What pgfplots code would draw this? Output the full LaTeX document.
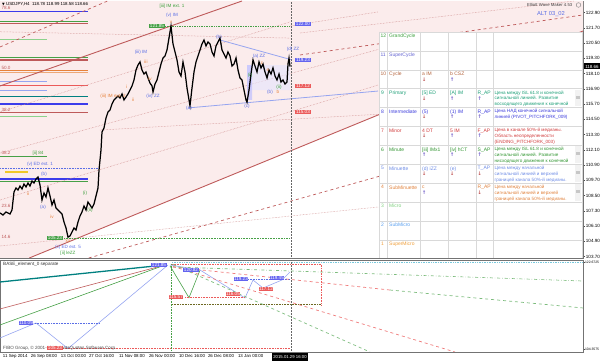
\documentclass[border=0pt]{standalone}
\usepackage{pgfplots}
\pgfplotsset{compat=1.18}
\usepackage{fontspec}
\setmainfont{Liberation Sans}
\newfontfamily\djfont{DejaVu Sans}
\definecolor{pinkbg}{RGB}{251,236,236}
\definecolor{brn}{RGB}{190,90,90}
\definecolor{brnl}{RGB}{205,135,135}
\definecolor{wblue}{RGB}{90,110,230}
\definecolor{wgreen}{RGB}{60,160,60}
\definecolor{worange}{RGB}{230,130,60}
\definecolor{mtblue}{RGB}{60,60,235}
\definecolor{mtred}{RGB}{235,90,90}
\definecolor{mtgreen}{RGB}{70,160,70}
\definecolor{teal2}{RGB}{0,128,128}
\definecolor{lblue}{RGB}{150,165,240}
\definecolor{lgreen}{RGB}{140,210,140}
\definecolor{ylw}{RGB}{240,200,40}
\definecolor{cyanl}{RGB}{120,200,220}
\definecolor{c12}{RGB}{60,160,60}
\definecolor{c11}{RGB}{100,100,210}
\definecolor{c10}{RGB}{180,100,60}
\definecolor{c9}{RGB}{30,160,120}
\definecolor{c8}{RGB}{60,60,220}
\definecolor{c7}{RGB}{210,60,60}
\definecolor{c6}{RGB}{50,150,50}
\definecolor{c5}{RGB}{110,140,230}
\definecolor{c4}{RGB}{225,130,60}
\definecolor{c3}{RGB}{130,210,130}
\definecolor{c2}{RGB}{90,160,240}
\definecolor{c1}{RGB}{240,160,60}
\definecolor{arrup}{RGB}{110,90,200}
\definecolor{arrdn}{RGB}{190,80,80}
\newcommand{\tfont}{\fontsize{5}{5.5}\selectfont}
\newcommand{\sfont}{\fontsize{4.6}{5.5}\selectfont}
\newcommand{\wfont}{\fontsize{4.6}{5}\selectfont}
\newcommand{\up}{{\djfont\bfseries\fontsize{5}{5}\selectfont\textcolor{arrup}{↑}}}
\newcommand{\dn}{{\djfont\bfseries\fontsize{5}{5}\selectfont\textcolor{arrdn}{↓}}}
\newcommand{\cell}[4]{\node[anchor=north west, inner sep=0pt, text=#4, font=\tfont] at (#1,#2) {#3};}
\newcommand{\scell}[4]{\node[anchor=north west, inner sep=0pt, text=#4, font=\sfont] at (#1,#2) {#3};}
\newcommand{\arr}[3]{\node[anchor=north west, inner sep=0pt] at (#1,#2) {#3};}
\begin{document}
\begin{tikzpicture}[x=1bp,y=1bp]
\useasboundingbox (0bp,0bp) rectangle (600bp,361bp);
% ================= TOP PANEL =================
\begin{axis}[
  at={(0bp,103bp)}, anchor=south west,
  width=583bp, height=257bp, scale only axis,
  xmin=0, xmax=583, ymin=103.585, ymax=123.82,
  axis line style={black!55, line width=0.6pt},
  xtick=\empty,
  ytick={103.70,104.90,106.10,107.30,108.50,109.70,110.90,112.10,113.30,114.50,115.70,116.90,118.10,119.30,120.50,121.70,122.90},
  ytick pos=right, yticklabel pos=right,
  tick align=outside, major tick length=2bp,
  tick style={black!70, line width=0.4pt},
  yticklabel style={font=\fontsize{4.6}{5}\selectfont, inner sep=0.7pt},
  /pgf/number format/fixed, /pgf/number format/fixed zerofill,
  /pgf/number format/precision=2, /pgf/number format/assume math mode=true,
]
% pink channel area
\addplot[fill=pinkbg, draw=none] coordinates {(29.3,103.585) (583,121.46) (583,123.82) (0,123.82) (0,103.585) (29.3,103.585)};
% left horizontal level bars
\addplot[mtblue, line width=0.8pt] coordinates {(0,123.03) (88,123.03)};
\addplot[mtgreen, line width=1.2pt] coordinates {(0,122.19) (88,122.19)};
\addplot[brn, line width=1.2pt] coordinates {(0,122.05) (88,122.05)};
\addplot[lgreen, line width=0.8pt] coordinates {(0,120.83) (47,120.83)};
\addplot[mtgreen, line width=1.0pt] coordinates {(0,119.35) (88,119.35)};
\addplot[brn, line width=1.2pt] coordinates {(0,119.18) (88,119.18)};
\addplot[worange, line width=0.8pt] coordinates {(0,118.39) (88,118.39)};
\addplot[worange!70, line width=0.8pt] coordinates {(0,118.18) (88,118.18)};
\addplot[lblue, line width=0.8pt] coordinates {(0,117.52) (47,117.52)};
\addplot[mtred, line width=1.0pt] coordinates {(0,117.13) (88,117.13)};
\addplot[lblue, line width=0.8pt] coordinates {(0,116.76) (47,116.76)};
\addplot[teal2, line width=1.0pt] coordinates {(0,116.34) (88,116.34)};
\addplot[mtblue, line width=1.3pt] coordinates {(0,115.71) (88,115.71)};
\addplot[brn, line width=1.2pt] coordinates {(0,115.03) (88,115.03)};
\addplot[lgreen, line width=0.8pt] coordinates {(0,114.71) (47,114.71)};
\addplot[mtgreen, line width=0.8pt] coordinates {(0,111.62) (47,111.62)};
\addplot[wblue, densely dotted, line width=0.6pt] coordinates {(0,110.67) (100,110.67)};
\addplot[ylw, line width=1.5pt] coordinates {(5,110.36) (28,110.36)};
\addplot[mtblue, line width=1.4pt] coordinates {(0,109.81) (88,109.81)};
\addplot[mtgreen, line width=1.0pt] coordinates {(0,109.63) (88,109.63)};
% pitchfork / channel lines
\addplot[brn, line width=0.9pt] coordinates {(0,117.13) (242,123.82)};
\addplot[brn, line width=0.9pt] coordinates {(29.3,103.585) (583,121.46)};
\addplot[brn, line width=0.7pt, dashed] coordinates {(88.7,103.585) (583,114.53)};
\addplot[brn, line width=0.7pt, dashed] coordinates {(0,120.20) (107.6,123.82)};
\addplot[brn, line width=0.7pt, dashed] coordinates {(300,119.57) (583,122.72)};
\addplot[brnl, line width=0.5pt, densely dotted] coordinates {(0,115.08) (290,122.17)};
\addplot[brnl, line width=0.5pt, densely dotted] coordinates {(0,111.85) (378,120.00)};
\addplot[brnl, line width=0.5pt, densely dotted] coordinates {(0,108.15) (378,117.20)};
\addplot[brnl, line width=0.5pt, densely dotted] coordinates {(0,104.53) (378,107.60)};
\addplot[brnl, line width=0.5pt, densely dotted] coordinates {(100,113.66) (378,114.90)};
\addplot[brnl, line width=0.5pt, densely dotted] coordinates {(290,121.85) (378,122.96)};
\addplot[brnl, line width=0.5pt, densely dotted] coordinates {(300,121.30) (574,123.82)};
\addplot[brnl, line width=0.5pt, densely dotted] coordinates {(0,121.40) (290,120.90)};
% shaded box of the last correction
\addplot[fill=blue!10, fill opacity=0.6, draw=none] coordinates {(247,118.78) (290,118.78) (290,116.81) (247,116.81) (247,118.78)};
\addplot[fill=blue!25, fill opacity=0.7, draw=none] coordinates {(247,118.78) (252,118.78) (252,116.03) (247,116.03) (247,118.78)};
% triangle lines
\addplot[lblue, line width=0.8pt] coordinates {(220,120.75) (292,119.18)};
\addplot[lblue, line width=0.8pt] coordinates {(188,115.40) (378,116.73)};
% horizontal dotted levels
\addplot[mtgreen, densely dotted, line width=0.7pt] coordinates {(165,121.85) (290,121.85)};
\addplot[mtgreen, densely dotted, line width=0.6pt] coordinates {(64,105.16) (290,105.16)};
\addplot[black!60, densely dotted, line width=0.5pt] coordinates {(291,103.585) (291,123.82)};
% price
\addplot[black, line width=1.25pt] coordinates {
(0,107.13)(3,106.97)(6,107.21)(10,107.05)(12,107.36)(14,108.78)(16,109.10)(18,108.94)(20,109.25)(22,109.02)(24,109.41)(26,109.18)(28,109.49)(30,109.25)(32,109.65)(34,109.49)(36,109.81)(38,109.96)(40,109.33)(42,108.15)(44,108.70)(46,108.39)(48,109.10)(50,108.47)(52,107.76)(54,108.15)(56,107.52)(58,107.36)(60,107.21)(62,107.05)(64,106.42)(66,105.95)(68,105.23)(70,105.32)(72,105.63)(74,105.95)(76,105.79)(78,106.42)(80,106.89)(82,107.21)(84,107.68)(86,107.36)(88,107.99)(90,107.76)(92,107.52)(94,107.84)(96,108.47)(98,109.10)(99,110.51)(101,112.09)(102,113.51)(104,113.82)(106,114.61)(108,115.08)(110,115.24)(112,115.71)(114,116.03)(116,116.18)(118,116.34)(120,116.18)(122,116.50)(124,116.03)(126,116.26)(128,116.50)(130,116.81)(132,117.13)(134,117.60)(136,118.39)(138,118.78)(140,119.02)(142,118.39)(144,118.07)(146,118.23)(148,117.76)(150,117.36)(152,117.13)(153,116.66)(155,117.29)(157,117.60)(159,118.23)(161,118.86)(163,119.33)(165,119.49)(167,119.96)(169,120.91)(171,121.85)(173,120.44)(175,119.81)(177,119.18)(179,118.23)(181,117.92)(183,119.02)(185,118.23)(187,116.97)(189,116.03)(190,115.57)(192,116.97)(194,118.23)(196,119.02)(198,119.49)(200,119.96)(202,120.44)(204,120.75)(206,120.28)(208,120.59)(210,120.44)(212,119.81)(214,119.49)(216,120.28)(218,120.59)(220,120.91)(222,119.96)(224,119.65)(226,119.33)(228,119.81)(230,119.49)(232,118.70)(234,118.86)(236,119.33)(238,118.39)(240,117.76)(242,117.60)(244,116.81)(246,116.03)(247,115.85)(249,116.81)(251,118.07)(253,119.18)(255,118.70)(257,118.23)(259,119.02)(261,118.55)(263,118.86)(265,118.23)(267,117.76)(269,118.39)(271,118.07)(273,118.55)(275,117.92)(277,117.60)(279,118.07)(281,117.44)(283,117.60)(285,117.29)(287,117.44)(288,118.86)(289,119.33)(290,118.66)};
% wave labels
\node[font=\wfont, text=wgreen] at (axis cs:172,123.40) {[iii] IM ext. 1};
\node[font=\wfont, text=wblue] at (axis cs:172,122.72) {(v) IM};
\node[font=\wfont, text=worange] at (axis cs:171,122.15) {v};
\node[font=\wfont, text=wblue] at (axis cs:141,119.81) {(iii) IM};
\node[font=\wfont, text=worange] at (axis cs:146,119.05) {iii};
\node[font=\wfont, text=worange] at (axis cs:150,117.70) {iv};
\node[font=\wfont, text=wblue] at (axis cs:153,116.30) {(iv) ZZ};
\node[font=\wfont, text=worange] at (axis cs:113,116.35) {(iii) IM ext. 2};
\node[font=\wfont, text=worange] at (axis cs:127,117.10) {i};
\node[font=\wfont, text=worange] at (axis cs:133,116.00) {ii};
\node[font=\wfont, text=wblue] at (axis cs:219,121.00) {(b)};
\node[font=\wfont, text=wblue] at (axis cs:189,115.35) {(a)};
\node[font=\wfont, text=wblue] at (axis cs:247,115.50) {(c)};
\node[font=\wfont, text=wblue] at (axis cs:293,120.05) {(d) ZZ};
\node[font=\wfont, text=wblue] at (axis cs:259,119.45) {(a) ZZ};
\node[font=\wfont, text=wblue] at (axis cs:270,116.60) {(b)};
\node[font=\wfont, text=wgreen] at (axis cs:250,117.95) {(i)};
\node[font=\wfont, text=worange] at (axis cs:262,118.90) {c};
\node[font=\wfont, text=worange] at (axis cs:268,118.40) {e};
\node[font=\wfont, text=wgreen] at (axis cs:279,117.00) {(ii)};
\node[font=\wfont, text=worange] at (axis cs:278,116.70) {b};
\node[font=\wfont, text=wblue] at (axis cs:40,110.95) {(v) ED ext. 1};
\node[font=\wfont, text=wblue] at (axis cs:44,110.20) {(b)};
\node[font=\wfont, text=wgreen] at (axis cs:38,111.85) {[ii] 84};
\node[font=\wfont, text=wblue] at (axis cs:43,107.55) {(a)};
\node[font=\wfont, text=worange] at (axis cs:28,108.60) {ii};
\node[font=\wfont, text=worange] at (axis cs:52,106.80) {iv};
\node[font=\wfont, text=wgreen] at (axis cs:85,108.65) {(i)};
\node[font=\wfont, text=wgreen] at (axis cs:90,107.35) {(ii)};
\node[font=\wfont, text=wblue] at (axis cs:68,104.45) {(c) ED ext. 5};
\node[font=\wfont, text=wgreen] at (axis cs:68,103.95) {[ii] leZZ};
\node[font=\wfont, text=worange] at (axis cs:68,104.90) {xx};
\node[font=\wfont, text=brn] at (axis cs:6,123.25) {78.6};
\node[font=\wfont, text=brn] at (axis cs:6,118.55) {50.0};
\node[font=\wfont, text=brn] at (axis cs:6,115.25) {38.2};
\node[font=\wfont, text=brn] at (axis cs:6,111.85) {38.2};
\node[font=\wfont, text=brn] at (axis cs:6,107.65) {23.6};
\node[font=\wfont, text=brn] at (axis cs:6,105.25) {14.6};
% price boxes
\node[font=\wfont, fill=mtgreen, text=white, inner sep=0.8pt] at (axis cs:157,121.85) {121.85};
\node[font=\wfont, fill=mtgreen, text=white, inner sep=0.8pt] at (axis cs:55,105.16) {105.23};
\node[font=\wfont, fill=mtblue!80, text=white, inner sep=0.8pt] at (axis cs:303,122.01) {122.00};
\node[font=\wfont, fill=mtblue!80, text=white, inner sep=0.8pt] at (axis cs:303,119.18) {119.23};
\node[font=\wfont, fill=mtred, text=white, inner sep=0.8pt] at (axis cs:303,117.13) {117.12};
\node[font=\wfont, fill=mtred, text=white, inner sep=0.8pt] at (axis cs:303,115.08) {115.03};
\end{axis}
% ================= LOWER PANEL =================
\begin{axis}[
  at={(0bp,9bp)}, anchor=south west,
  width=583bp, height=92bp, scale only axis,
  xmin=0, xmax=583, ymin=103.87, ymax=123.24,
  axis line style={black!55, line width=0.6pt},
  xtick={2,30,60,88,118,148,178,207,237},
  xticklabels={11 Sep 2014,26 Sep 08:00,13 Oct 00:00,27 Oct 16:00,11 Nov 08:00,26 Nov 00:00,10 Dec 16:00,26 Dec 08:00,13 Jan 00:00},
  xtick pos=bottom,
  xticklabel style={anchor=north west, font=\fontsize{4.4}{5}\selectfont, inner sep=0.8bp},
  ytick={104.3575,122.6725},
  ytick pos=right, yticklabel pos=right,
  tick align=outside, major tick length=1.5bp,
  tick style={black!70, line width=0.4pt},
  yticklabel style={font=\fontsize{3.4}{4}\selectfont, inner sep=0.3pt},
  /pgf/number format/fixed, /pgf/number format/fixed zerofill,
  /pgf/number format/precision=4, /pgf/number format/assume math mode=true,
]
\addplot[teal2, line width=1.3pt] coordinates {(0,118.61) (165,122.19)};
\addplot[brn, line width=0.6pt] coordinates {(0,112.93) (165,122.19)};
\addplot[mtgreen, line width=0.6pt] coordinates {(0,109.56) (165,122.19)};
\addplot[lblue, line width=0.6pt] coordinates {(0,106.82) (36,109.98) (68,104.60) (168,122.19)};
\addplot[wblue, densely dotted, line width=0.6pt] coordinates {(35,109.98) (100,109.98)};
\addplot[mtred, densely dotted, line width=0.6pt] coordinates {(63,104.60) (290,104.60)};
\addplot[cyanl, densely dotted, line width=0.7pt] coordinates {(172,122.67) (583,122.67)};
\addplot[mtred, densely dotted, line width=0.6pt] coordinates {(172,122.40) (321,122.40) (321,113.77)};
\addplot[olive!70!black, densely dotted, line width=0.6pt] coordinates {(172,113.98) (321,113.98)};
\addplot[mtgreen, densely dotted, line width=0.6pt] coordinates {(171,122.40) (171,103.87)};
\addplot[black!60, densely dotted, line width=0.5pt] coordinates {(291,103.87) (291,123.24)};
\addplot[mtgreen, line width=0.6pt] coordinates {(170,122.00) (189,115.30) (200,121.10)};
\addplot[lblue, line width=0.6pt] coordinates {(170,122.19) (200,121.13) (245,115.24) (253,119.03) (263,117.34) (282,119.03) (290,120.72)};
\addplot[mtred, densely dotted, line width=0.6pt] coordinates {(185,115.45) (245,115.45)};
\addplot[wblue, densely dotted, line width=0.6pt] coordinates {(248,119.24) (290,119.24)};
\addplot[mtgreen!70, dash dot, line width=0.7pt] coordinates {(173,121.77) (583,118.82)};
\addplot[mtred!80, dashed, line width=0.7pt] coordinates {(173,121.77) (390,116.92)};
\addplot[mtgreen!70, dashed, line width=0.7pt] coordinates {(390,116.92) (583,113.14)};
\addplot[mtred!80, dashed, line width=0.7pt] coordinates {(173,121.87) (455,103.87)};
\addplot[mtgreen!70, dashed, line width=0.7pt] coordinates {(173,122.30) (370,103.87)};
\node[font=\wfont, anchor=west, inner sep=0pt, text=black!80] at (axis cs:3,122.40) {BASE\_element\_0 separate};
\node[font=\wfont, anchor=west, inner sep=0pt, text=black!70] at (axis cs:3,104.75) {FIBO Group, © 2001-2014, MetaQuotes Software Corp.};
\node[font=\wfont, fill=mtblue!80, text=white, inner sep=0.6pt] at (axis cs:159,122.19) {121.85};
\node[font=\wfont, fill=mtblue!80, text=white, inner sep=0.6pt] at (axis cs:26,109.98) {110.09};
\node[font=\wfont, fill=mtred, text=white, inner sep=0.6pt] at (axis cs:55,104.75) {105.23};
\node[font=\wfont, fill=mtred, text=white, inner sep=0.6pt] at (axis cs:176,115.45) {115.57};
\node[font=\wfont, fill=mtblue!80, text=white, inner sep=0.6pt] at (axis cs:191,121.14) {120.82};
\node[font=\wfont, fill=mtblue!80, text=white, inner sep=0.6pt] at (axis cs:241,119.24) {119.23};
\node[font=\wfont, fill=mtred, text=white, inner sep=0.6pt] at (axis cs:233,116.08) {116.05};
\node[font=\wfont, fill=mtred, text=white, inner sep=0.6pt] at (axis cs:266,117.13) {117.12};
\node[font=\wfont, fill=mtblue!80, text=white, inner sep=0.6pt] at (axis cs:277,119.45) {119.45};
\end{axis}
% ================= OVERLAYS (pixel coordinates) =================
\begin{scope}[shift={(0bp,361bp)}, yscale=-1]
\node[anchor=west, inner sep=0pt, font=\fontsize{4.4}{5}\selectfont] at (2,4.5) {{\djfont\fontsize{3.5}{4}\selectfont ▼} USDJPY,H4\ \ 118.78 118.99 118.58 118.66};
\node[anchor=west, inner sep=0pt, font=\fontsize{4.3}{5}\selectfont, text=black!75] at (527,5) {Elliott Wave Maker 4.53};
\draw[black!50, line width=0.4pt] (578.5,5) circle (2.3);
\node[inner sep=0pt, font=\fontsize{5.8}{6}\selectfont, text=wblue] at (551,14.5) {ALT 03\_02};
% current price box
\fill[black] (584,63.5) rectangle (600,69.5);
\node[inner sep=0pt, font=\fontsize{4.5}{5}\selectfont, text=white] at (592,66.5) {118.66};
% date box
\fill[black] (272,353) rectangle (308,361);
\node[inner sep=0pt, font=\fontsize{4.3}{5}\selectfont, text=white] at (290,357) {2015.01.29 16:00};
% ---- table ----
\fill[white] (379,32) rectangle (582,258);
\foreach \yy in {32,50.9,69.8,88.7,107.6,126.5,145.4,164.3,183.2,202.1,221,239.9}
  \draw[black!15, line width=0.5pt] (379,\yy) -- (582,\yy);
\foreach \xx in {379,387,420,448,476,493,582}
  \draw[black!15, line width=0.5pt] (\xx,32) -- (\xx,258);
\foreach \tt in {88.7,145.4,164.3,183.2}{
  \fill[black!5] (575,\tt+1) rectangle (581,\tt+17.5);
  \fill[black!22] (576,\tt+7) rectangle (580,\tt+10);
}
% row 12
\cell{380.3}{34}{12}{c12}\cell{389}{34}{GrandCycle}{c12}
% row 11
\cell{380.3}{52.9}{11}{c11}\cell{389}{52.9}{SuperCycle}{c11}
% row 10
\cell{380.3}{71.8}{10}{c10}\cell{389}{71.8}{Cycle}{c10}
\cell{422}{71.8}{a IM}{c10}\arr{422}{77.3}{\dn}
\cell{450}{71.8}{b CSZ}{c10}\arr{450}{77.3}{\up}
% row 9
\cell{381}{90.7}{9}{c9}\cell{389}{90.7}{Primary}{c9}
\cell{422}{90.7}{[5] ED}{c9}\arr{422}{96.2}{\dn}
\cell{450}{90.7}{[A] IM}{c9}\arr{450}{96.2}{\up}
\cell{477.5}{90.7}{R\_AP}{c9}\arr{477.5}{96.2}{\up}
\scell{494.5}{90.5}{Цена между ISL 61.8 и конечной}{c9}
\scell{494.5}{96.3}{сигнальной линией. Развитие}{c9}
\scell{494.5}{102.1}{восходящего движения к конечной}{c9}
% row 8
\cell{381}{109.6}{8}{c8}\cell{389}{109.6}{Intermediate}{c8}
\cell{422}{109.6}{(5)}{c8}\arr{422}{115.1}{\dn}
\cell{450}{109.6}{(1) IM}{c8}\arr{450}{115.1}{\up}
\cell{477.5}{109.6}{R\_AP}{c8}\arr{477.5}{115.1}{\up}
\scell{494.5}{109.4}{Цена НАД конечной сигнальной}{c8}
\scell{494.5}{115.2}{линией (PIVOT\_PITCHFORK\_009)}{c8}
% row 7
\cell{381}{128.5}{7}{c7}\cell{389}{128.5}{Minor}{c7}
\cell{422}{128.5}{4 DT}{c7}\arr{422}{134}{\dn}
\cell{450}{128.5}{5 IM}{c7}\arr{450}{134}{\up}
\cell{477.5}{128.5}{F\_AP}{c7}\arr{477.5}{134}{\up}
\scell{494.5}{128.3}{Цена в канале 50\%-й медианы.}{c7}
\scell{494.5}{134.1}{Область неопределенности}{c7}
\scell{494.5}{139.9}{(ENDING\_PITCHFORK\_003)}{c7}
% row 6
\cell{381}{147.4}{6}{c6}\cell{389}{147.4}{Minute}{c6}
\cell{422}{147.4}{[iii] IMx1}{c6}\arr{422}{152.9}{\up}
\cell{450}{147.4}{[iv] hCT}{c6}\arr{450}{152.9}{\up}
\cell{477.5}{147.4}{S\_AP}{c6}\arr{477.5}{152.9}{\up}
\scell{494.5}{147.2}{Цена между ISL 61.8 и конечной}{c6}
\scell{494.5}{153}{сигнальной линией. Развитие}{c6}
\scell{494.5}{158.8}{нисходящего движения к конечной}{c6}
% row 5
\cell{381}{166.3}{5}{c5}\cell{389}{166.3}{Minuette}{c5}
\cell{422}{166.3}{(d) iZZ}{c5}\arr{422}{171.8}{\dn}
\cell{450}{166.3}{(e)}{c5}\arr{450}{171.8}{\dn}
\cell{477.5}{166.3}{T\_AP}{c5}\arr{477.5}{171.8}{\dn}
\scell{494.5}{166.1}{Цена между начальной}{c5}
\scell{494.5}{171.9}{сигнальной линией и верхней}{c5}
\scell{494.5}{177.7}{границей канала 50\%-й медианы.}{c5}
% row 4
\cell{381}{185.2}{4}{c4}\cell{389}{185.2}{SubMinuette}{c4}
\cell{422}{185.2}{c}{c4}\arr{422}{190.7}{\up}
\cell{477.5}{185.2}{R\_AP}{c4}\arr{477.5}{190.7}{\dn}
\scell{494.5}{185}{Цена между начальной}{c4}
\scell{494.5}{190.8}{сигнальной линией и верхней}{c4}
\scell{494.5}{196.6}{границей канала 50\%-й медианы.}{c4}
% rows 3..1
\cell{381}{204.1}{3}{c3}\cell{389}{204.1}{Micro}{c3}
\cell{381}{223}{2}{c2}\cell{389}{223}{SubMicro}{c2}
\cell{381}{241.9}{1}{c1}\cell{389}{241.9}{SuperMicro}{c1}
\end{scope}
\end{tikzpicture}
\end{document}
